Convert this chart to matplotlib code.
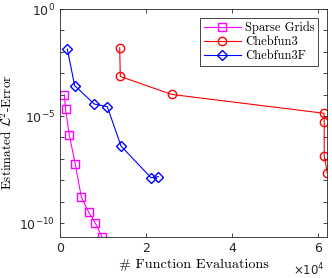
import matplotlib
matplotlib.use("Agg")
import matplotlib.pyplot as plt
import numpy as np
from matplotlib.ticker import FixedLocator, FuncFormatter, NullFormatter

plt.rcParams["mathtext.fontset"] = "dejavusans"

# data
sg_evals = [1000, 1300, 2170, 3560, 4950, 6670, 8210, 9770]
sg_err = [1e-4, 10**-4.69, 10**-5.89, 10**-7.26, 10**-8.77, 10**-9.50, 10**-10.0, 10**-10.65]

cf3_evals = [13880, 14030, 25970, 61400, 61450, 61450, 62170]
cf3_err = [10**-1.81, 10**-3.15, 10**-3.99, 10**-4.87, 10**-5.28, 10**-6.85, 10**-7.68]

cf3f_evals = [1700, 3410, 7980, 11000, 14190, 21160, 22870]
cf3f_err = [10**-1.87, 10**-3.58, 10**-4.44, 10**-4.56, 10**-6.40, 10**-7.88, 10**-7.83]

x_scale = 1e4

fig = plt.figure(figsize=(3.32, 2.78), dpi=100)
ax = fig.add_axes([0.1807, 0.1475, 0.8043, 0.8201])

ax.semilogy(sg_evals, sg_err, color="#ff00ff", marker="s", markersize=5.5,
            markerfacecolor="none", linewidth=0.8, label="Sparse Grids")
ax.semilogy(cf3_evals, cf3_err, color="#ff0000", marker="o", markersize=6,
            markerfacecolor="none", linewidth=0.8, label="Chebfun3")
ax.semilogy(cf3f_evals, cf3f_err, color="#0000ff", marker="D", markersize=5.5,
            markerfacecolor="none", linewidth=0.8, label="Chebfun3F")

ax.set_xlim(0, 6.21e4)
ax.set_ylim(10**-10.65, 1)

ax.xaxis.set_major_locator(FixedLocator([0, 2e4, 4e4, 6e4]))
ax.xaxis.set_major_formatter(FuncFormatter(lambda v, p: "%g" % (v / x_scale)))
ax.text(0.993, -0.168, r"$\times10^{4}$", transform=ax.transAxes,
        ha="right", va="baseline", fontsize=8.5, color="#262626")

ax.yaxis.set_major_locator(FixedLocator([1e-10, 1e-5, 1e0]))
ax.yaxis.set_major_formatter(FuncFormatter(
    lambda v, p: r"$10^{%d}$" % int(round(np.log10(v)))))
ax.yaxis.set_minor_locator(FixedLocator(10.0 ** np.arange(-10, 1)))
ax.yaxis.set_minor_formatter(NullFormatter())
ax.xaxis.set_minor_locator(FixedLocator([]))

ax.tick_params(which="both", direction="in", top=True, right=True,
               length=3, width=0.6, colors="#262626", labelsize=9,
               labelcolor="#262626")
for s in ax.spines.values():
    s.set_color("#262626")
    s.set_linewidth(0.6)

ax.set_xlabel("# Function Evaluations", family="cmr10", fontsize=10.2, labelpad=3)
ax.set_ylabel(r"Estimated $\mathcal{L}^2$-Error", family="cmr10",
              fontsize=9.5, math_fontfamily="cm")
ax.yaxis.set_label_coords(-0.17, 0.46)

leg = ax.legend(loc="upper right", prop={"family": "cmr10", "size": 9},
                fancybox=False, framealpha=1, edgecolor="#262626",
                handlelength=3.0, handletextpad=0.3, borderpad=0.3,
                labelspacing=0.15, borderaxespad=0.7)
leg.get_frame().set_linewidth(0.6)

fig.savefig("out.png", dpi=100)
